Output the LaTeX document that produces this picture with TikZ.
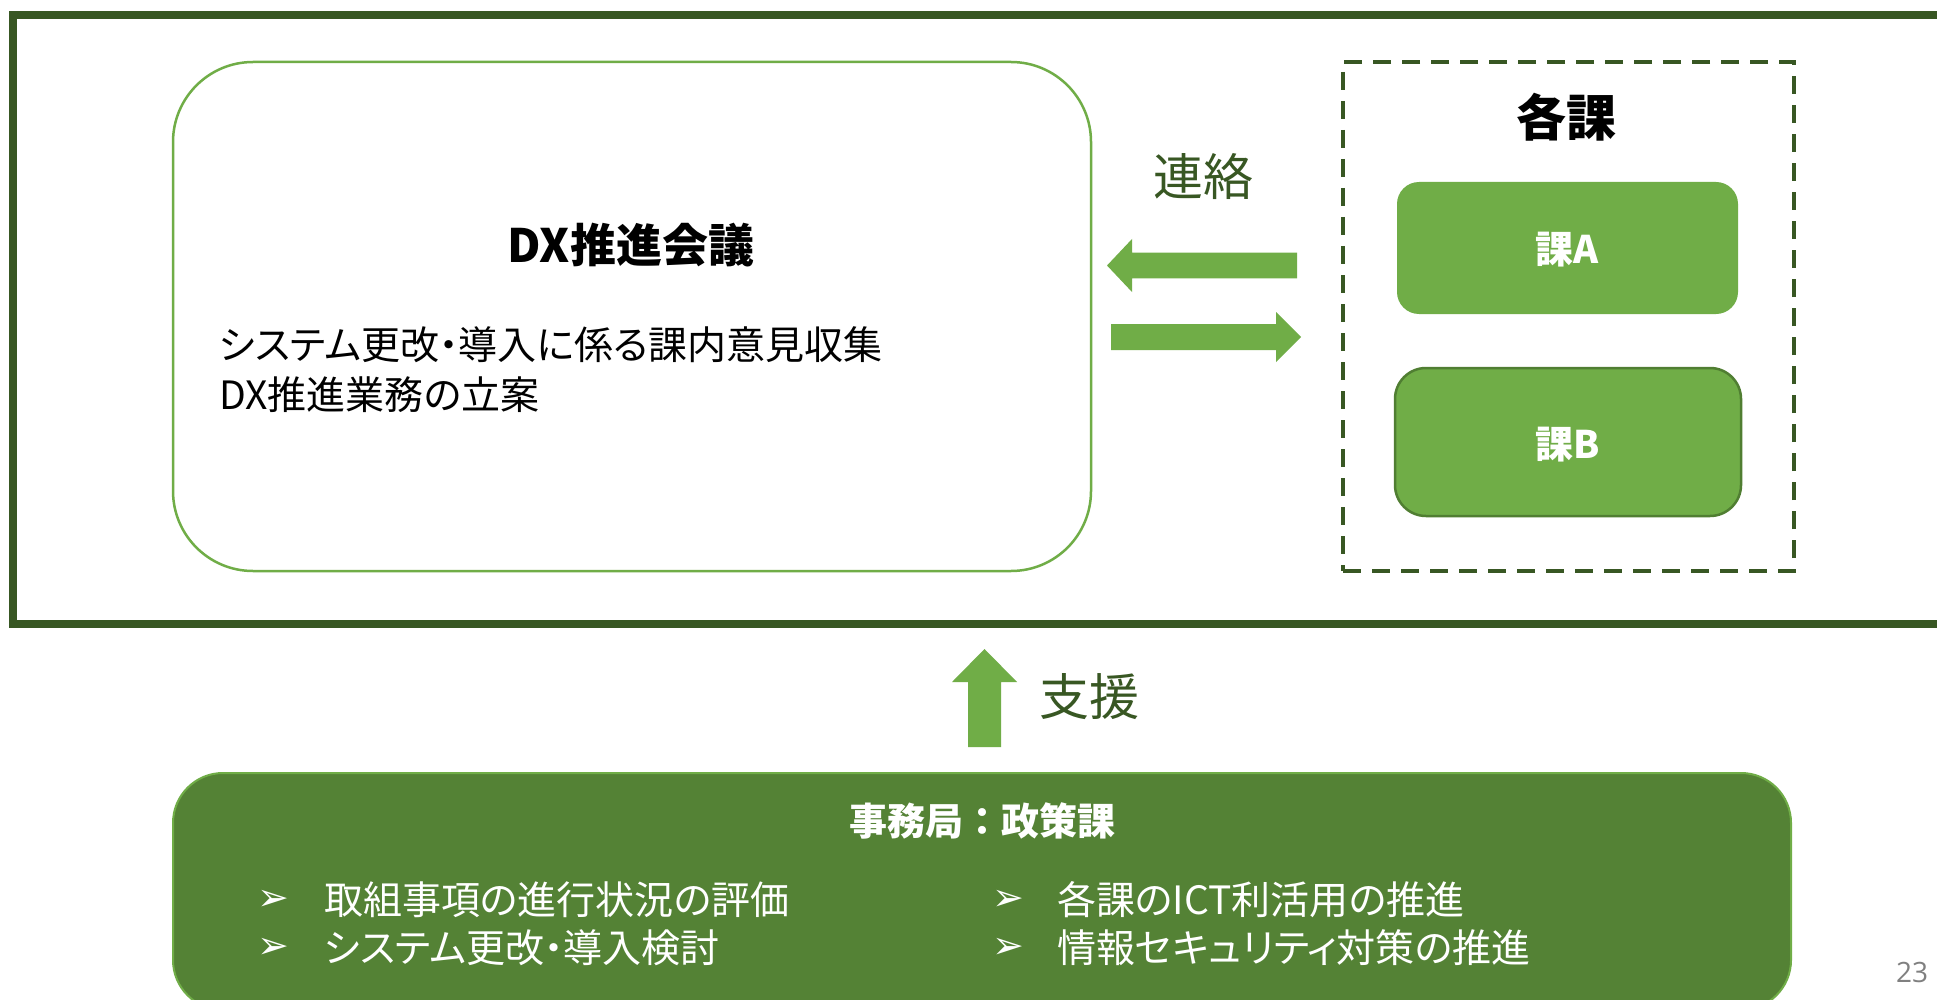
\documentclass[tikz,border=0pt]{standalone}
\usepackage{fontspec}
\setmainfont{Noto Sans CJK JP}[RawFeature=+palt]
\newfontfamily\jpfull{Noto Sans CJK JP}
\newfontfamily\dejavu{DejaVu Sans}
\newfontfamily\numfont{Open Sans}
\definecolor{dkgreen}{HTML}{385723}
\definecolor{ltgreen}{HTML}{70AD47}
\definecolor{midgreen}{HTML}{548235}
\definecolor{bordergreen}{HTML}{507E32}
\tikzset{
  txt/.style={inner sep=0pt, font=\fontsize{39}{47}\selectfont},
  ltxt/.style={txt, anchor=west},
  wtxt/.style={ltxt, text=white},
  bul/.style={inner sep=0pt, text=white, font=\dejavu\fontsize{38}{44}\selectfont},
  ttl/.style={inner sep=0pt, font=\bfseries\fontsize{46}{55}\selectfont},
  gtxt/.style={inner sep=0pt, text=dkgreen, font=\fontsize{50}{60}\selectfont},
  kabox/.style={fill=ltgreen, inner sep=0pt, text=white, font=\bfseries\fontsize{38}{46}\selectfont},
  blockarrow/.style={fill=ltgreen}
}
\begin{document}
\begin{tikzpicture}[x=1pt,y=-1pt]
\clip (0,0) rectangle (1937,1000);
\fill[white] (0,0) rectangle (1937,1000);
% outer frame
\draw[dkgreen, line width=8] (13,15) rectangle (1970,624);
% DX box
\node[draw=ltgreen, line width=2.5, rounded corners=80, minimum width=918, minimum height=509] (dx) at (632,316.5) {};
\node[ttl] (dxtitle) at (631,245) {DX推進会議};
\node[ltxt] (dxl1) at (219,345) {システム更改・導入に係る課内意見収集};
\node[ltxt] (dxl2) at (219,395) {DX推進業務の立案};
% kaku box
\node[draw=dkgreen, line width=4, dash pattern=on 18 off 11, minimum width=451, minimum height=509] (kaku) at (1568.5,316.5) {};
\node[ttl, font=\bfseries\fontsize{50}{60}\selectfont] (kakutitle) at (1566,117) {各課};
\node[kabox, rounded corners=22, minimum width=341, minimum height=132] (kaA) at (1567.5,248) {};
\node[kabox] (kaAt) at (1567.5,250) {課A};
\node[kabox, draw=bordergreen, line width=2.5, rounded corners=31, minimum width=346, minimum height=148] (kaB) at (1568,442) {};
\node[kabox] (kaBt) at (1568,445) {課B};
% renraku
\node[gtxt] (renraku) at (1203,177) {連絡};
\fill[blockarrow] (1107,265.5) -- (1132,239) -- (1132,252.7) -- (1297,252.7) -- (1297,278.3) -- (1132,278.3) -- (1132,292) -- cycle;
\fill[blockarrow] (1301,337) -- (1276,312) -- (1276,324) -- (1111,324) -- (1111,350) -- (1276,350) -- (1276,362) -- cycle;
% shien
\fill[blockarrow] (984.5,649) -- (1017,682) -- (1001,682) -- (1001,747) -- (968,747) -- (968,682) -- (952,682) -- cycle;
\node[gtxt] (shien) at (1089,697) {支援};
% bottom box
\node[fill=midgreen, draw=ltgreen, line width=2, rounded corners=50, minimum width=1618, minimum height=237] (jimu) at (982,891.5) {};
\node[ttl, text=white, font=\jpfull\bfseries\fontsize{38}{46}\selectfont] (jimut) at (982,821) {事務局：政策課};
\node[bul] (b1) at (273,900) {➢};
\node[wtxt] (t1) at (324,900) {取組事項の進行状況の評価};
\node[bul] (b2) at (273,948) {➢};
\node[wtxt] (t2) at (324,948) {システム更改・導入検討};
\node[bul] (b3) at (1008,900) {➢};
\node[wtxt] (t3) at (1057,900) {各課のICT利活用の推進};
\node[bul] (b4) at (1008,948) {➢};
\node[wtxt] (t4) at (1057,948) {情報セキュリティ対策の推進};
% page number
\node[inner sep=0pt, text=gray, font=\numfont\fontsize{28}{32}\selectfont] (pg) at (1912,972) {23};
\end{tikzpicture}
\end{document}
